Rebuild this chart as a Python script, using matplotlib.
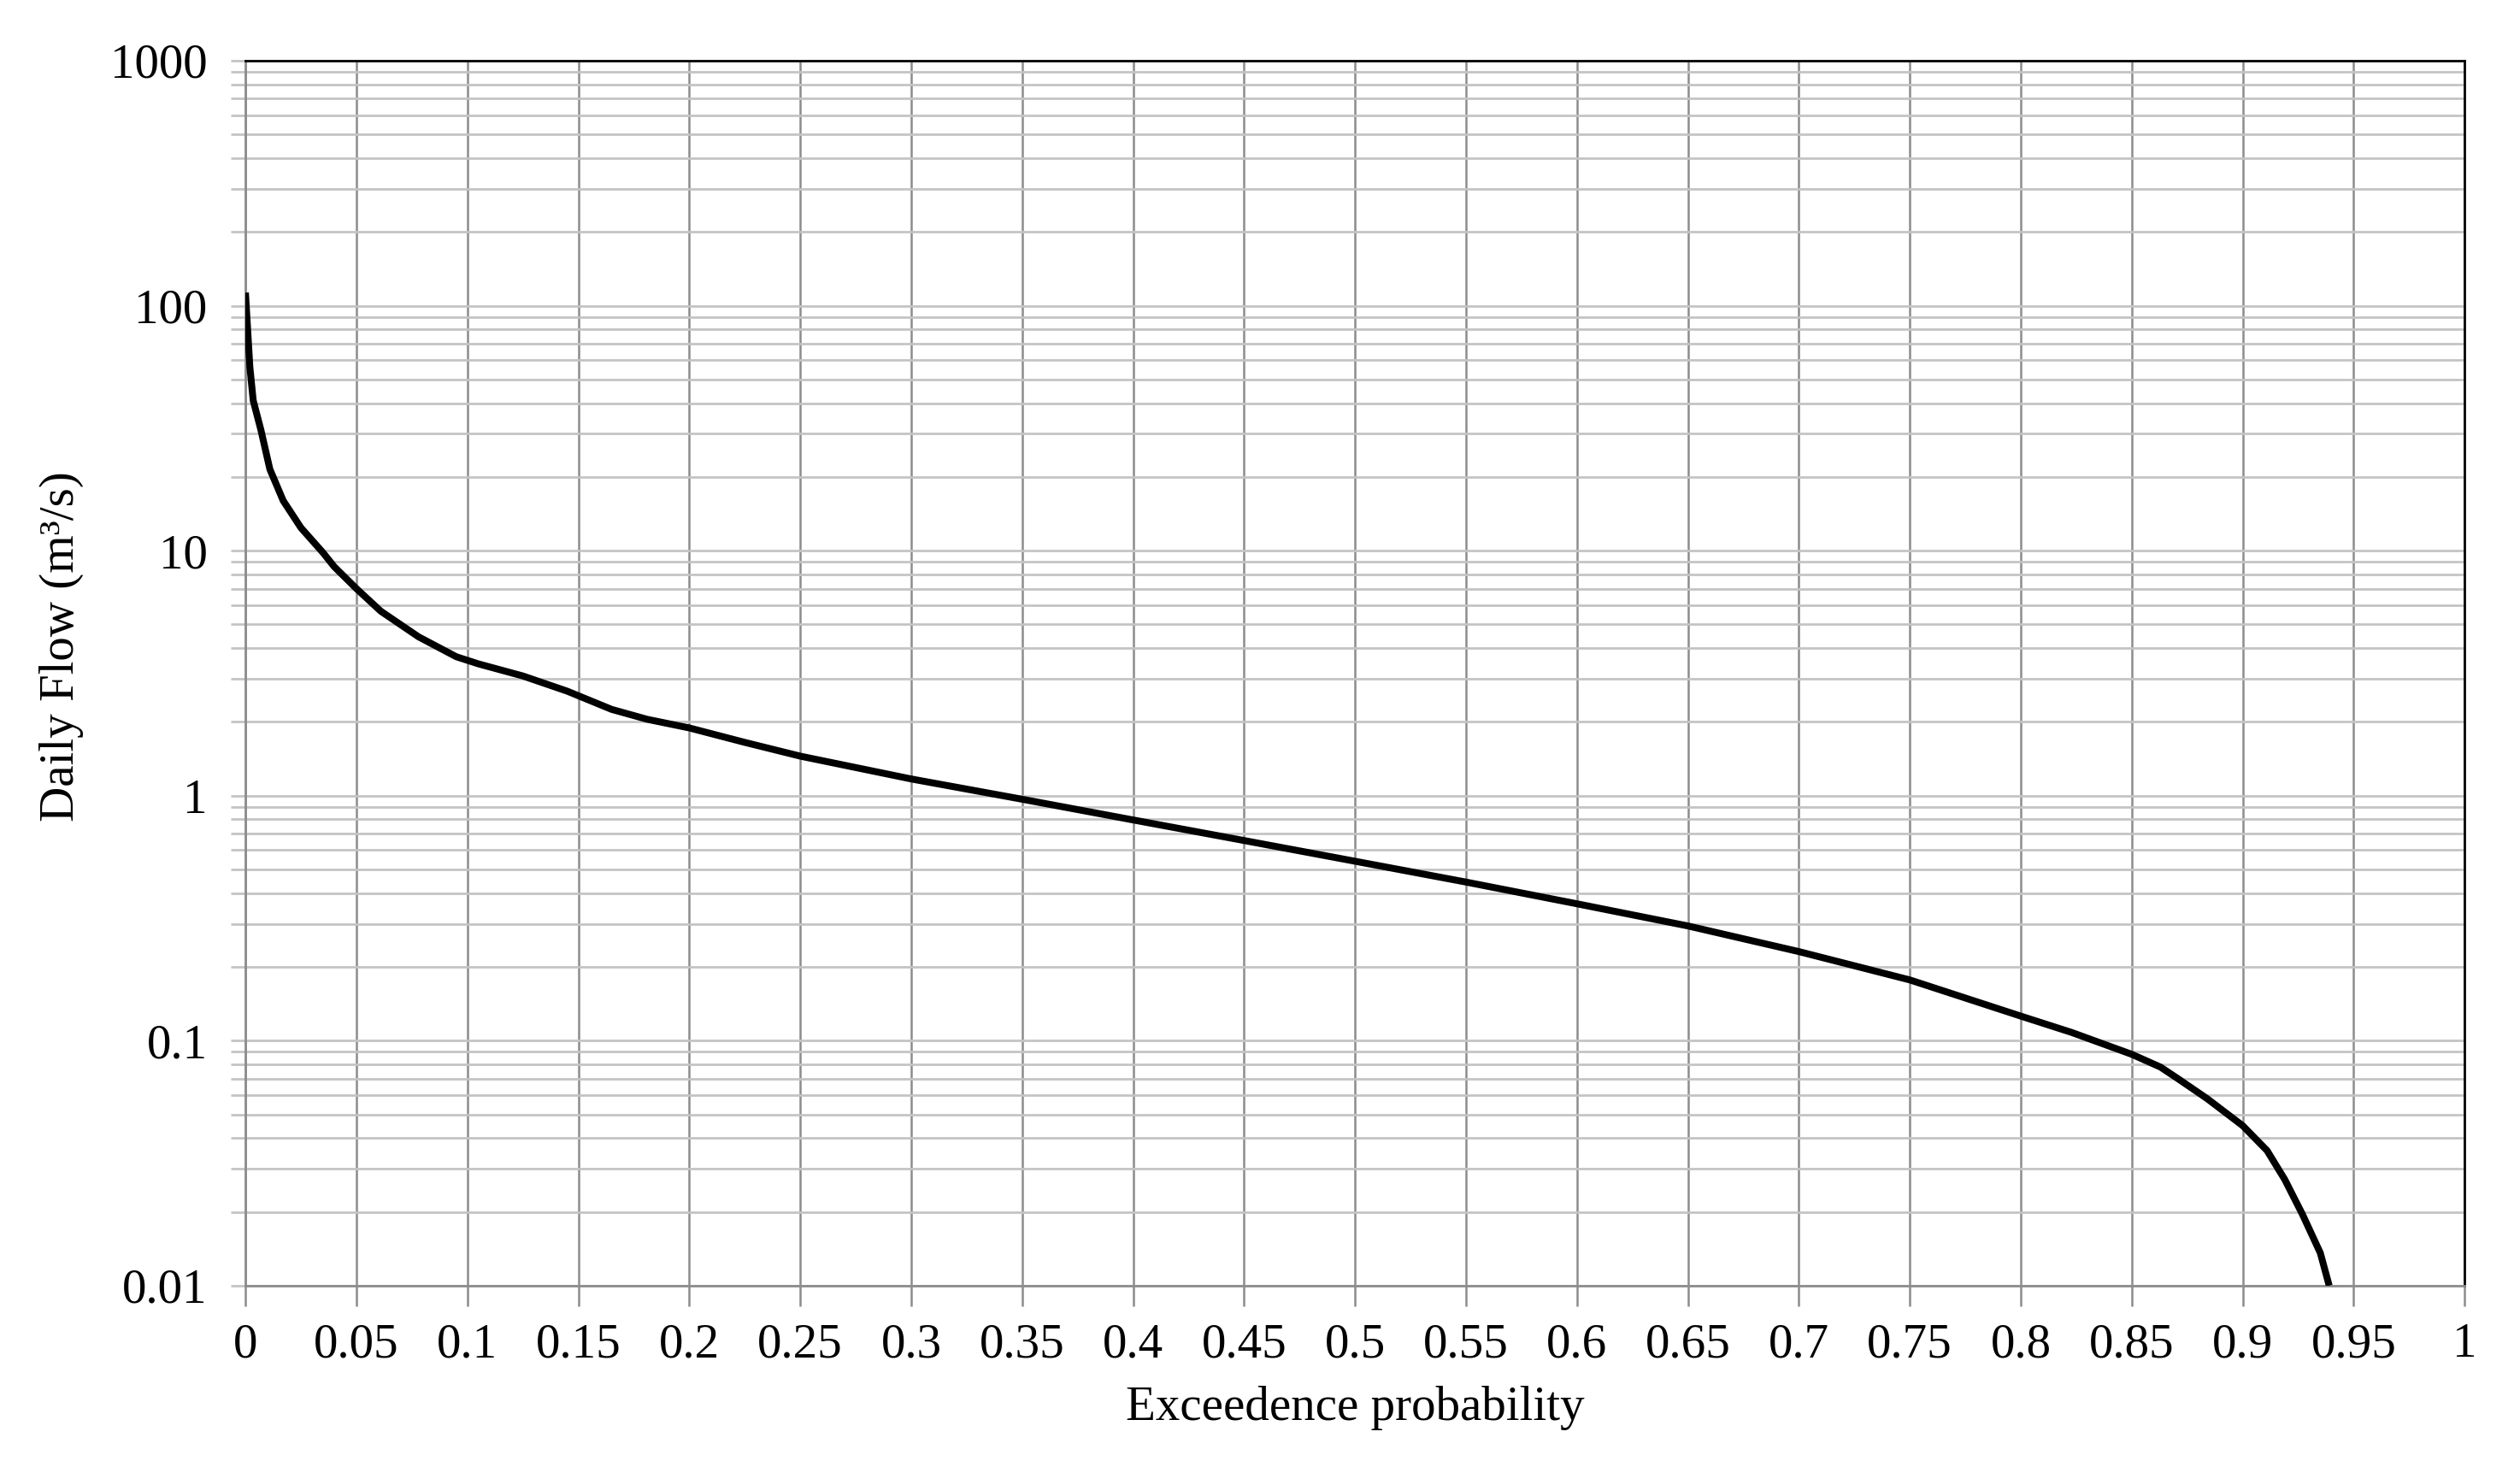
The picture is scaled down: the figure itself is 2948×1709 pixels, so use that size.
import matplotlib
matplotlib.use('Agg')
import matplotlib.pyplot as plt
from matplotlib.ticker import LogLocator, FixedLocator, NullFormatter, FuncFormatter

# flow duration curve
exceedence = [0.0, 0.002, 0.0035, 0.007, 0.011, 0.017, 0.025, 0.035, 0.04, 0.05,
              0.061, 0.078, 0.095, 0.105, 0.125, 0.145, 0.165, 0.181, 0.2, 0.225,
              0.25, 0.3, 0.35, 0.4, 0.45, 0.5, 0.55, 0.6, 0.65, 0.7,
              0.75, 0.8, 0.823, 0.85, 0.863, 0.871, 0.884, 0.9, 0.911, 0.919,
              0.927, 0.935, 0.939]
flow = [113, 56, 41, 31, 21.5, 16, 12.4, 9.8, 8.6, 7.0,
        5.66, 4.45, 3.69, 3.45, 3.08, 2.67, 2.25, 2.05, 1.89, 1.65,
        1.45, 1.17, 0.967, 0.796, 0.656, 0.54, 0.444, 0.362, 0.294, 0.231,
        0.177, 0.126, 0.108, 0.088, 0.078, 0.0698, 0.058, 0.045, 0.0356, 0.0271,
        0.0195, 0.0136, 0.01]

x_ticks = [i * 0.05 for i in range(21)]
y_ticks = [0.01, 0.1, 1, 10, 100, 1000]

plt.rcParams['font.family'] = ['Liberation Serif', 'DejaVu Serif']

fig = plt.figure(figsize=(14.74, 8.545), dpi=200)
ax = fig.add_axes([0.0974, 0.12, 0.8806, 0.8385])

ax.plot(exceedence, flow, color='black', lw=2.9, zorder=5,
        solid_joinstyle='round', solid_capstyle='butt')

ax.set_yscale('log')
ax.set_xlim(0, 1)
ax.set_ylim(0.01, 1000)

ax.xaxis.set_major_locator(FixedLocator(x_ticks))
ax.xaxis.set_major_formatter(FuncFormatter(lambda v, p: ('%.2f' % v).rstrip('0').rstrip('.') if v else '0'))
ax.yaxis.set_major_locator(FixedLocator(y_ticks))
ax.yaxis.set_major_formatter(FuncFormatter(lambda v, p: ('%g' % v)))
ax.yaxis.set_minor_locator(LogLocator(base=10, subs=range(2, 10)))
ax.yaxis.set_minor_formatter(NullFormatter())

ax.set_axisbelow(True)
ax.grid(axis='y', which='both', color='#c4c4c4', lw=1.0)
ax.grid(axis='x', which='major', color='#8c8c8c', lw=0.9)

ax.tick_params(axis='x', which='major', length=8.6, width=0.9, color='#8c8c8c',
               pad=7, labelsize=20.5)
ax.tick_params(axis='y', which='both', length=6, width=1.0, color='#c4c4c4',
               pad=10, labelsize=20.5)

for s in ['left', 'bottom']:
    ax.spines[s].set_color('#8c8c8c')
    ax.spines[s].set_linewidth(1.0)
for s in ['top', 'right']:
    ax.spines[s].set_color('black')
    ax.spines[s].set_linewidth(1.0)

ax.set_xlabel('Exceedence probability', fontsize=20.5, labelpad=8)
ax.set_ylabel('Daily Flow (m³/s)', fontsize=20.5)
ax.yaxis.set_label_coords(-0.073, 0.522)

fig.savefig('out.png', dpi=200, facecolor='white')
